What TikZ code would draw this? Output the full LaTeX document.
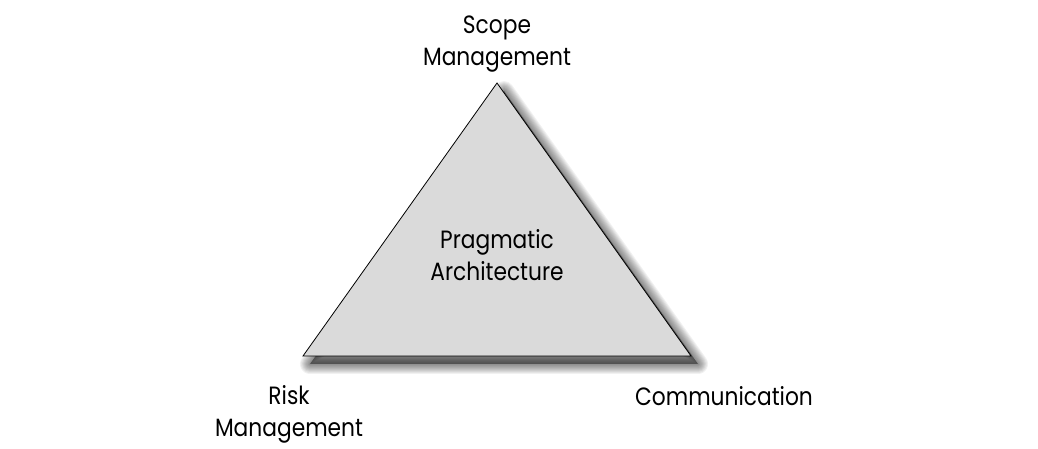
\documentclass[tikz,border=0pt]{standalone}
\usepackage{fontspec}
\setmainfont{Poppins}[FakeStretch=0.87]
\definecolor{trifill}{RGB}{218,218,218}
\begin{document}
\begin{tikzpicture}[x=1pt,y=1pt,
  lbl/.style={font=\fontsize{25}{32}\selectfont, align=center, inner sep=0pt},
  shadowlayer/.style={fill=black, draw=black, fill opacity=0.055, draw opacity=0.055, line join=round}]
\useasboundingbox (0,0) rectangle (1038,449);
\coordinate (A) at (497,366);
\coordinate (B) at (303,93);
\coordinate (C) at (691,93);
\foreach \w in {20,18,16,14,12,10,8,6,4,2} {
  \path[shadowlayer, line width=\w pt] ([shift={(7,-8)}]A) -- ([shift={(7,-8)}]B) -- ([shift={(7,-8)}]C) -- cycle;
}
\filldraw[fill=trifill, draw=black, line width=0.8pt, line join=miter] (A) -- (B) -- (C) -- cycle;
\node[lbl] (scope) at (497,405) {Scope\\Management};
\node[lbl] (prag) at (497,194) {Pragmatic\\Architecture};
\node[lbl] (risk) at (289,35) {Risk\\Management};
\node[lbl, anchor=base] (comm) at (724,43) {Communication};
\end{tikzpicture}
\end{document}
